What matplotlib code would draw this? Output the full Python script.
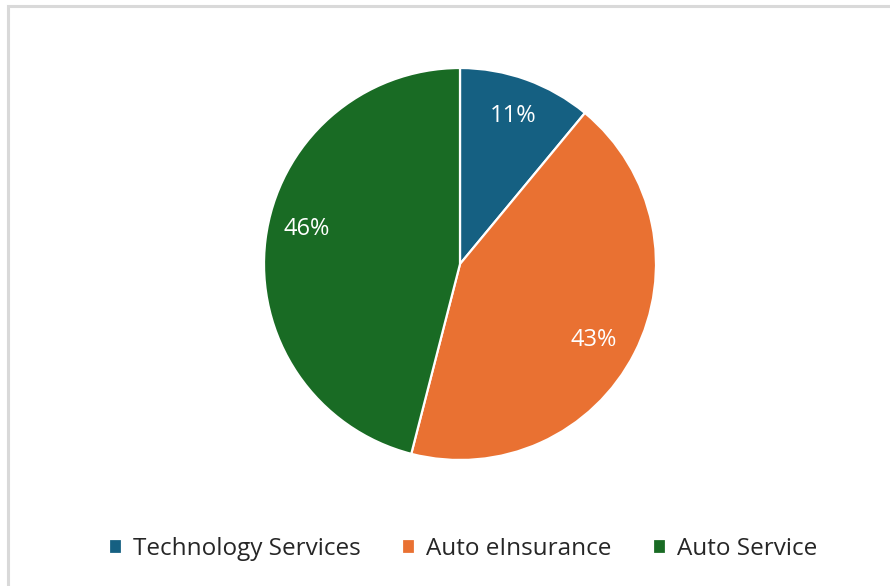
import matplotlib
matplotlib.use("Agg")
import matplotlib.pyplot as plt
from matplotlib.patches import Rectangle

# segment shares
labels = ['Technology Services', 'Auto eInsurance', 'Auto Service']
shares = [11, 43, 46]
colors = ['#156082', '#E97132', '#196B24']

plt.rcParams['font.family'] = ['Open Sans', 'DejaVu Sans']

W, H = 890, 586
fig = plt.figure(figsize=(W / 100, H / 100), dpi=100)

# light grey chart border (runs off the right and bottom edge)
fig.patches.append(Rectangle((7.5 / W, -0.05), 1.0, 1 - 5.5 / H + 0.05,
                             transform=fig.transFigure, fill=False,
                             edgecolor='#d9d9d9', linewidth=2.2))

# pie centred at (460, 264) px, radius 196 px
cx, cy, r = 460, 264, 196
ax = fig.add_axes([(cx - r) / W, (H - cy - r) / H, 2 * r / W, 2 * r / H])
wedges, texts, autotexts = ax.pie(
    shares, colors=colors, startangle=90, counterclock=False,
    autopct='%d%%', pctdistance=0.8,
    wedgeprops=dict(edgecolor='white', linewidth=1.6),
    textprops=dict(color='white', fontsize=17))
ax.set_xlim(-1, 1)
ax.set_ylim(-1, 1)
ax.set_aspect('auto')
ax.axis('off')

# nudge the larger labels the way the data labels sit
autotexts[1].set_position((0.68, -0.39))
autotexts[2].set_position((-0.78, 0.18))

fig.legend(wedges, labels, loc='center', bbox_to_anchor=(463 / W, (H - 549) / H),
           ncol=3, frameon=False, fontsize=17.5, handlelength=0.55, handleheight=0.55,
           handletextpad=0.45, columnspacing=1.7, labelcolor='#262626')

fig.savefig('out.png', dpi=100)
